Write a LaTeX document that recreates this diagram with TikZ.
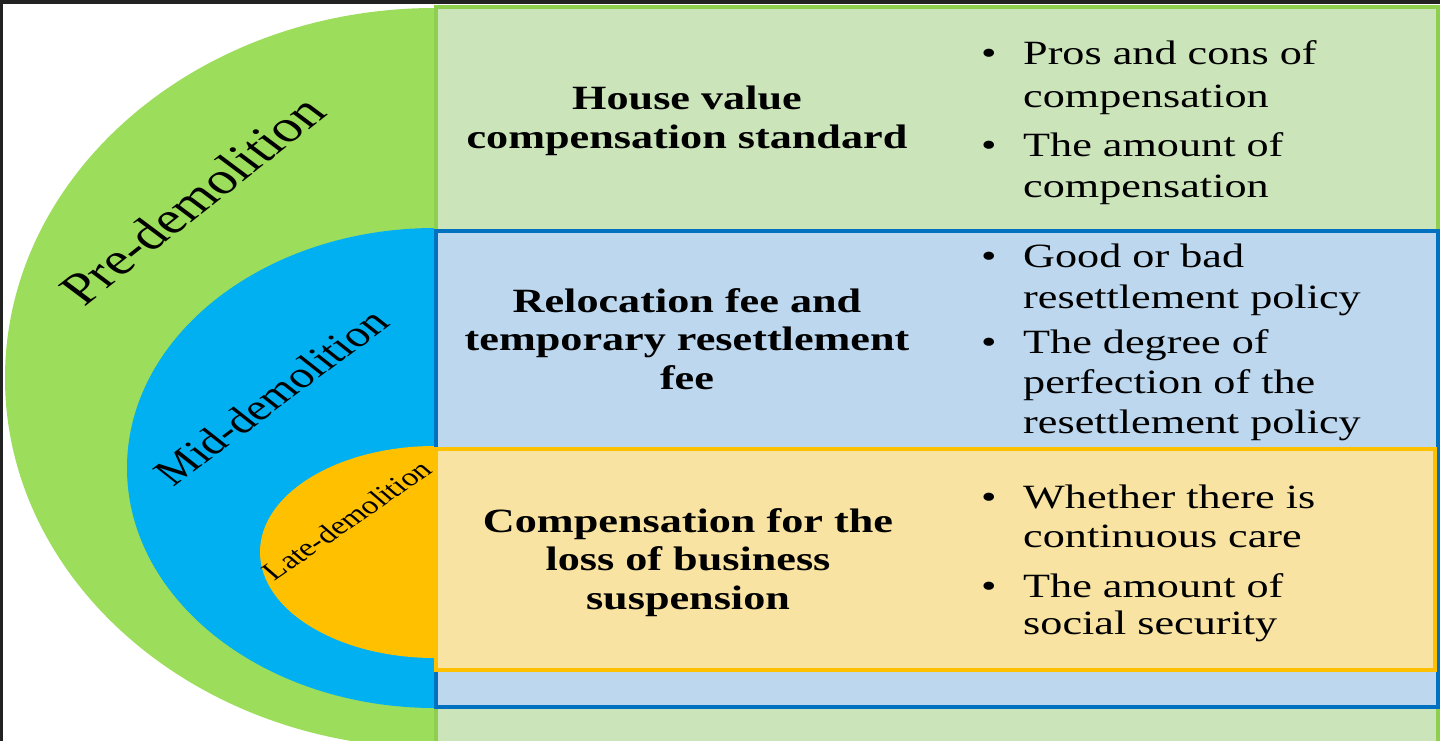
\documentclass[tikz,border=0pt]{standalone}
\usepackage{fontspec}
\setmainfont{Liberation Serif}[FakeStretch=1.3]
\newfontfamily\plainserif{Liberation Serif}
\definecolor{ellG}{HTML}{9CDD5B}
\definecolor{ellB}{HTML}{00B0F0}
\definecolor{ellY}{HTML}{FFC000}
\definecolor{boxGfill}{HTML}{CBE4BA}
\definecolor{boxGline}{HTML}{8FCF4F}
\definecolor{boxBfill}{HTML}{BDD7EE}
\definecolor{boxBline}{HTML}{0070C0}
\definecolor{boxYfill}{HTML}{F8E3A3}
\definecolor{boxYline}{HTML}{FFC000}
\definecolor{frameC}{HTML}{222222}
\begin{document}
\begin{tikzpicture}[x=1pt,y=-1pt,
  phase/.style={line width=4pt},
  head/.style={font=\bfseries\fontsize{34}{38.5}\selectfont, inner sep=0pt, anchor=base, align=center},
  bul/.style={font=\fontsize{34}{41}\selectfont, inner sep=0pt, anchor=base west},
  lab/.style={inner sep=0pt, anchor=center, xscale=1.3}]
\useasboundingbox (0,0) rectangle (1440,741);
\begin{scope}
\clip (0,0) rectangle (1440,741);
\fill[white] (0,0) rectangle (1440,741);
% half ellipses
\fill[ellG] (435,378) ellipse [x radius=430, y radius=370];
\fill[ellB] (435,468) ellipse [x radius=308, y radius=240];
\fill[ellY] (435,552) ellipse [x radius=175, y radius=106];
% boxes
\draw[phase, draw=boxGline, fill=boxGfill] (436,7) rectangle (1437.5,780);
\draw[phase, draw=boxBline, fill=boxBfill] (436,230.5) rectangle (1437.5,707);
\draw[phase, draw=boxYline, fill=boxYfill] (436,449) rectangle (1435,670);
% dark frame
\fill[frameC] (0,0) rectangle (1440,4);
\fill[frameC] (0,0) rectangle (3,741);
\end{scope}
% phase labels
\node[lab, rotate=45.8, font=\plainserif\fontsize{45}{45}\selectfont] (pre) at (192,200) {Pre-demolition};
\node[lab, rotate=44.3, font=\plainserif\fontsize{37}{37}\selectfont] (mid) at (271,397) {Mid-demolition};
\node[lab, rotate=41.8, font=\plainserif\fontsize{25.5}{25.5}\selectfont] (late) at (347,520) {Late-demolition};
% headings
\node[head] (h1) at (687,110) {\parbox[t]{520pt}{\centering House value\\compensation standard}};
\node[head] (h2) at (687,312) {\parbox[t]{520pt}{\centering Relocation fee and\\temporary resettlement\\fee}};
\node[head] (h3) at (688,532) {\parbox[t]{520pt}{\centering Compensation for the\\loss of business\\suspension}};
% bullets
\newcommand{\bulitem}[1]{\parbox[t]{440pt}{\noindent\hangindent=42pt\hangafter=1\makebox[42pt][l]{\textbullet}#1}}
\node[bul, font=\fontsize{34}{43}\selectfont] (b11) at (981,65) {\bulitem{Pros and cons of\\compensation}};
\node[bul, font=\fontsize{34}{40}\selectfont] (b12) at (981,157) {\bulitem{The amount of\\compensation}};
\node[bul] (b21) at (981,267) {\bulitem{Good or bad\\resettlement policy}};
\node[bul, font=\fontsize{34}{40}\selectfont] (b22) at (981,353) {\bulitem{The degree of\\perfection of the\\resettlement policy}};
\node[bul, font=\fontsize{34}{39}\selectfont] (b31) at (981,508) {\bulitem{Whether there is\\continuous care}};
\node[bul, font=\fontsize{34}{37}\selectfont] (b32) at (981,597) {\bulitem{The amount of\\social security}};
\end{tikzpicture}
\end{document}
